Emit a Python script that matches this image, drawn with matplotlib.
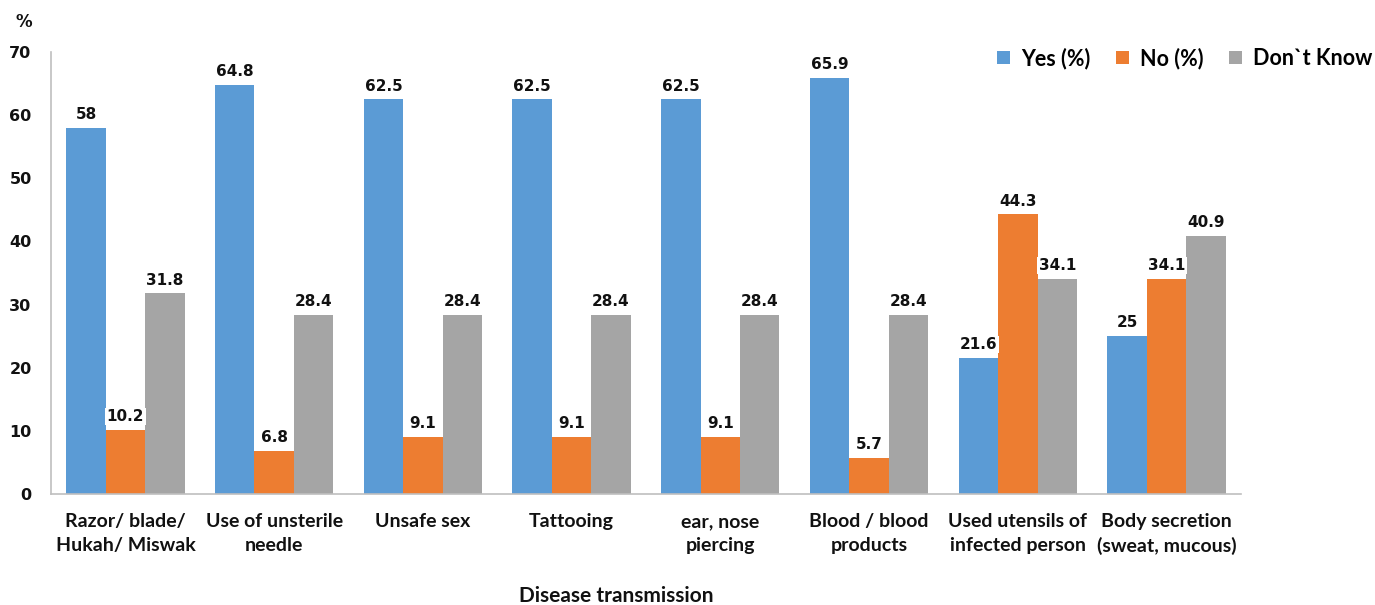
import numpy as np
import matplotlib
matplotlib.use('Agg')
import matplotlib.pyplot as plt
from matplotlib.patches import Patch

categories = ['Razor/ blade/\nHukah/ Miswak', 'Use of unsterile\nneedle', 'Unsafe sex',
              'Tattooing', 'ear, nose\npiercing', 'Blood / blood\nproducts',
              'Used utensils of\ninfected person', 'Body secretion\n(sweat, mucous)']
yes_vals = [58, 64.8, 62.5, 62.5, 62.5, 65.9, 21.6, 25]
no_vals = [10.2, 6.8, 9.1, 9.1, 9.1, 5.7, 44.3, 34.1]
dk_vals = [31.8, 28.4, 28.4, 28.4, 28.4, 28.4, 34.1, 40.9]
series_names = ['Yes (%)', 'No (%)', 'Don`t Know']
colors = ['#5B9BD5', '#ED7D31', '#A5A5A5']

fig = plt.figure(figsize=(13.75, 6.05), dpi=100)
ax = fig.add_axes([0.0371, 0.1835, 0.8654, 0.7305])

x = np.arange(len(categories))
w = 0.265
for i, vals in enumerate([yes_vals, no_vals, dk_vals]):
    pos = x + (i - 1) * w
    ax.bar(pos, vals, width=w, color=colors[i], zorder=2)
    for px, v in zip(pos, vals):
        ax.text(px, v + 0.9, '%g' % v, ha='center', va='bottom',
                fontsize=11, fontweight='bold', color='#111111', zorder=3,
                bbox=dict(facecolor='white', edgecolor='none', pad=1.0))

ax.set_xlim(-0.5, len(categories) - 0.5)
ax.set_ylim(0, 70)
ax.set_yticks(np.arange(0, 71, 10))
ax.set_xticks(x)
ax.set_xticklabels(categories, family='Lato', fontweight='bold', fontsize=14,
                   color='#111111', linespacing=1.45)
for t in ax.get_yticklabels():
    t.set_fontweight('bold')
    t.set_fontsize(11.5)
    t.set_color('#111111')
ax.tick_params(axis='both', length=0)
ax.tick_params(axis='x', pad=14)
ax.tick_params(axis='y', pad=14)

for s in ['top', 'right']:
    ax.spines[s].set_visible(False)
ax.spines['left'].set_color('#BFBFBF')
ax.spines['bottom'].set_color('#BFBFBF')
ax.spines['left'].set_linewidth(1.2)
ax.spines['bottom'].set_linewidth(1.2)

fig.text(0.011, 0.955, '%', fontsize=12, fontweight='bold', color='#111111')
fig.text(0.448, 0.005, 'Disease transmission', family='Lato', fontsize=15,
         fontweight='bold', color='#111111', ha='center')

handles = [Patch(facecolor=c, edgecolor='none') for c in colors]
leg = fig.legend(handles, series_names, loc='center right', bbox_to_anchor=(0.998, 0.904),
                 ncol=3, frameon=False, handlelength=0.6, handleheight=0.6,
                 handletextpad=0.5, columnspacing=1.2, borderpad=0, borderaxespad=0,
                 prop={'family': 'Lato', 'weight': 'bold', 'size': 15.5})

fig.savefig('out.png', dpi=100)
